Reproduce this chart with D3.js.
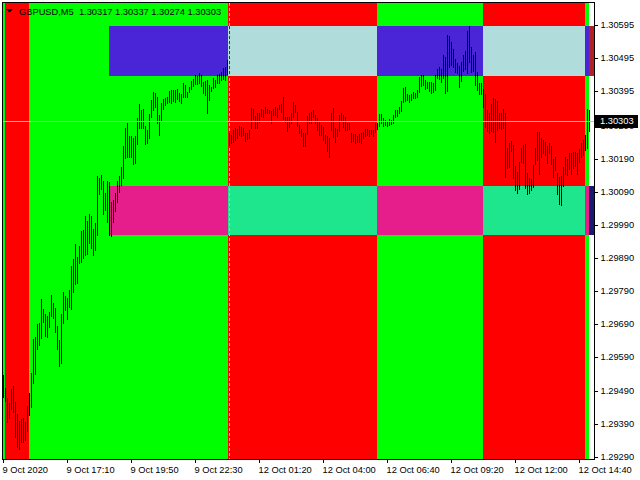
<!DOCTYPE html>
<html><head><meta charset="utf-8">
<script src="https://cdn.jsdelivr.net/npm/d3@7"></script>
<style>html,body{margin:0;padding:0;background:#fff;}svg{display:block;}</style>
</head><body>
<svg id="c" width="640" height="480"></svg>
<script>
// ---------- data ----------
const symbol = "GBPUSD,M5";
const lastOHLC = [1.30317, 1.30337, 1.30274, 1.30303];
const bid = 1.30303;

const highs = [
1.29537,1.29498,1.29467,1.29452,1.29495,1.29504,1.29455,1.29419,1.29398,1.29404,
1.29407,1.29395,1.29443,1.29482,1.29543,1.29646,1.29652,1.29691,1.29694,1.29766,
1.29736,1.29721,1.29715,1.29727,1.29779,1.29754,1.29739,1.29685,1.29643,1.29721,
1.29788,1.29776,1.29769,1.29794,1.29866,1.29887,1.29933,1.29893,1.29927,1.29972,
1.29975,1.30017,1.30002,1.30023,1.30017,1.29978,1.29996,1.30138,1.30132,1.30141,
1.30123,1.30087,1.30123,1.30120,1.30059,1.30066,1.30087,1.30123,1.30138,1.30165,
1.30229,1.30283,1.30298,1.30259,1.30259,1.30253,1.30259,1.30313,1.30356,1.30337,
1.30340,1.30289,1.30277,1.30325,1.30368,1.30392,1.30389,1.30377,1.30322,1.30359,
1.30371,1.30374,1.30377,1.30395,1.30398,1.30398,1.30398,1.30401,1.30389,1.30386,
1.30419,1.30413,1.30392,1.30407,1.30425,1.30431,1.30443,1.30440,1.30449,1.30443,
1.30422,1.30425,1.30428,1.30413,1.30407,1.30434,1.30428,1.30443,1.30446,1.30452,
1.30464,1.30467,1.30488,1.30268,1.30262,1.30277,1.30283,1.30280,1.30289,1.30286,
1.30283,1.30268,1.30268,1.30277,1.30343,1.30340,1.30319,1.30328,1.30328,1.30340,
1.30337,1.30346,1.30340,1.30337,1.30334,1.30340,1.30346,1.30343,1.30353,1.30356,
1.30377,1.30316,1.30316,1.30316,1.30328,1.30362,1.30353,1.30331,1.30292,1.30280,
1.30268,1.30268,1.30319,1.30328,1.30331,1.30337,1.30322,1.30313,1.30301,1.30292,
1.30286,1.30262,1.30259,1.30253,1.30328,1.30343,1.30283,1.30280,1.30322,1.30328,
1.30322,1.30316,1.30298,1.30298,1.30268,1.30265,1.30265,1.30259,1.30265,1.30268,
1.30271,1.30280,1.30280,1.30277,1.30277,1.30277,1.30298,1.30298,1.30325,1.30325,
1.30313,1.30307,1.30304,1.30310,1.30307,1.30322,1.30337,1.30337,1.30346,1.30365,
1.30404,1.30407,1.30386,1.30383,1.30386,1.30392,1.30389,1.30398,1.30437,1.30443,
1.30443,1.30428,1.30422,1.30422,1.30422,1.30419,1.30443,1.30461,1.30467,1.30461,
1.30504,1.30497,1.30564,1.30561,1.30543,1.30522,1.30491,1.30479,1.30470,1.30482,
1.30504,1.30516,1.30576,1.30591,1.30528,1.30504,1.30513,1.30452,1.30419,1.30419,
1.30401,1.30386,1.30337,1.30328,1.30356,1.30374,1.30371,1.30365,1.30328,1.30328,
1.30340,1.30328,1.30223,1.30238,1.30244,1.30232,1.30168,1.30150,1.30180,1.30223,
1.30232,1.30235,1.30147,1.30132,1.30129,1.30171,1.30223,1.30271,1.30271,1.30253,
1.30247,1.30241,1.30229,1.30238,1.30229,1.30189,1.30195,1.30147,1.30135,1.30138,
1.30165,1.30195,1.30189,1.30208,1.30208,1.30211,1.30211,1.30208,1.30220,1.30238,
1.30247,1.30262,1.30340,1.30337
];
const lows = [
1.29470,1.29458,1.29395,1.29407,1.29434,1.29425,1.29350,1.29319,1.29313,1.29334,
1.29334,1.29340,1.29368,1.29416,1.29440,1.29513,1.29540,1.29615,1.29627,1.29649,
1.29697,1.29655,1.29652,1.29682,1.29715,1.29709,1.29667,1.29615,1.29564,1.29573,
1.29694,1.29733,1.29706,1.29742,1.29736,1.29788,1.29812,1.29815,1.29875,1.29878,
1.29890,1.29899,1.29902,1.29936,1.29921,1.29899,1.29914,1.29960,1.30084,1.30099,
1.30023,1.30035,1.29999,1.29960,1.29957,1.29999,1.30032,1.30059,1.30090,1.30111,
1.30132,1.30192,1.30195,1.30195,1.30195,1.30174,1.30177,1.30235,1.30283,1.30283,
1.30283,1.30235,1.30238,1.30253,1.30316,1.30337,1.30346,1.30298,1.30262,1.30307,
1.30340,1.30353,1.30359,1.30362,1.30359,1.30365,1.30362,1.30371,1.30365,1.30359,
1.30377,1.30377,1.30377,1.30392,1.30401,1.30410,1.30416,1.30416,1.30419,1.30410,
1.30389,1.30383,1.30328,1.30368,1.30395,1.30404,1.30407,1.30419,1.30419,1.30428,
1.30431,1.30428,1.30446,1.30232,1.30238,1.30241,1.30247,1.30253,1.30262,1.30259,
1.30262,1.30244,1.30250,1.30253,1.30283,1.30310,1.30283,1.30283,1.30301,1.30319,
1.30316,1.30328,1.30328,1.30328,1.30298,1.30322,1.30322,1.30316,1.30340,1.30331,
1.30310,1.30301,1.30274,1.30286,1.30298,1.30316,1.30331,1.30289,1.30268,1.30259,
1.30229,1.30229,1.30265,1.30298,1.30298,1.30316,1.30298,1.30277,1.30262,1.30262,
1.30247,1.30238,1.30214,1.30195,1.30277,1.30256,1.30241,1.30259,1.30274,1.30307,
1.30286,1.30277,1.30277,1.30280,1.30241,1.30244,1.30238,1.30241,1.30241,1.30238,
1.30253,1.30259,1.30262,1.30259,1.30265,1.30259,1.30271,1.30280,1.30289,1.30298,
1.30289,1.30292,1.30289,1.30292,1.30295,1.30298,1.30316,1.30319,1.30328,1.30334,
1.30362,1.30365,1.30368,1.30362,1.30368,1.30374,1.30374,1.30377,1.30392,1.30410,
1.30413,1.30401,1.30404,1.30395,1.30389,1.30392,1.30398,1.30434,1.30431,1.30422,
1.30434,1.30389,1.30395,1.30467,1.30473,1.30467,1.30452,1.30449,1.30407,1.30425,
1.30455,1.30461,1.30449,1.30482,1.30452,1.30455,1.30413,1.30398,1.30386,1.30386,
1.30346,1.30286,1.30274,1.30268,1.30274,1.30271,1.30241,1.30277,1.30283,1.30280,
1.30283,1.30135,1.30162,1.30165,1.30214,1.30132,1.30096,1.30087,1.30099,1.30180,
1.30177,1.30102,1.30084,1.30087,1.30096,1.30105,1.30174,1.30186,1.30144,1.30195,
1.30208,1.30201,1.30177,1.30208,1.30174,1.30135,1.30156,1.30084,1.30053,1.30050,
1.30108,1.30144,1.30141,1.30159,1.30144,1.30162,1.30168,1.30144,1.30180,1.30195,
1.30201,1.30217,1.30223,1.30274
];

const timeTickBars = [0, 32, 64, 96, 128, 160, 192, 224, 256, 288];
const timeTickLabels = ["9 Oct 2020","9 Oct 17:10","9 Oct 19:50","9 Oct 22:30","12 Oct 01:20",
                        "12 Oct 04:00","12 Oct 06:40","12 Oct 09:20","12 Oct 12:00","12 Oct 14:40"];
const priceTicks = [1.30595,1.30495,1.30395,1.30290,1.30190,1.30090,1.29990,
                    1.29890,1.29790,1.29690,1.29590,1.29490,1.29390,1.29290];

// session background bands (bar-index edges)
const sessionEdges  = [0, 1, 13, 112.5, 187, 240, 291, 293, 296];
const sessionColors = ["#00ff00","#ff0000","#00ff00","#ff0000","#00ff00","#ff0000","#00ff00","#ffffff"];
// range boxes
const boxEdges    = [53, 112.5, 187, 240, 291, 293, 296];
const upperZone   = [1.30441, 1.30591];
const lowerZone   = [1.29960, 1.30109];
const upperColors = ["#4a25d8","#b0dcdc","#4a25d8","#b0dcdc","#4a25d8","#b22222"];
const lowerColors = ["#e61e8c","#1ee68c","#e61e8c","#1ee68c","#e61e8c","#191970"];
const separatorBar = 113;

// ---------- drawing ----------
const L = 3, R = 594, T = 3, B = 459;
const x = d3.scaleLinear().domain([0, 295.5]).range([L, R]);
const y = d3.scaleLinear().domain([1.29283, 1.30661]).range([B, T]);
const FONT = "'Liberation Sans', Arial, sans-serif";
const FS = "9.3px";

const svg = d3.select("#c");
svg.append("rect").attr("width",640).attr("height",480).attr("fill","#fff");
svg.append("defs").append("clipPath").attr("id","pc")
  .append("rect").attr("x",L).attr("y",T).attr("width",R-L).attr("height",B-T);
const g = svg.append("g").attr("clip-path","url(#pc)").attr("shape-rendering","crispEdges");

// bands
g.selectAll("rect.band").data(sessionColors).join("rect").attr("class","band")
  .attr("x",(d,i)=>x(sessionEdges[i])).attr("width",(d,i)=>x(sessionEdges[i+1])-x(sessionEdges[i]))
  .attr("y",T).attr("height",B-T).attr("fill",d=>d);

// boxes
function boxes(zone, colors){
  const y0 = Math.round(y(zone[1])), y1 = Math.round(y(zone[0]));
  g.append("g").selectAll("rect").data(colors).join("rect")
    .attr("x",(d,i)=>x(boxEdges[i])).attr("width",(d,i)=>x(boxEdges[i+1])-x(boxEdges[i]))
    .attr("y",y0).attr("height",y1-y0).attr("fill",d=>d);
}
boxes(upperZone, upperColors);
boxes(lowerZone, lowerColors);

// period separator
const sx = x(separatorBar) + 0.5;
g.append("line").attr("x1",sx).attr("x2",sx).attr("y1",T).attr("y2",B)
  .attr("stroke","#a8d0ec").attr("stroke-dasharray","3,2");
g.append("line").attr("x1",sx).attr("x2",sx).attr("y1",Math.round(y(upperZone[1]))).attr("y2",Math.round(y(upperZone[0])))
  .attr("stroke","#3a3a3a").attr("stroke-dasharray","3,2");

// bars
g.append("g").selectAll("line").data(highs).join("line")
  .attr("x1",(d,i)=>x(i)+0.5).attr("x2",(d,i)=>x(i)+0.5)
  .attr("y1",d=>Math.round(y(d))).attr("y2",(d,i)=>Math.round(y(lows[i]))+1)
  .attr("stroke","#000").attr("stroke-width",1);

// bid line
const by = Math.round(y(bid)) + 0.5;
g.append("line").attr("x1",L).attr("x2",R).attr("y1",by).attr("y2",by).attr("stroke","#c0c0c0");

// frame
svg.append("rect").attr("x",2.5).attr("y",2.5).attr("width",592).attr("height",457)
  .attr("fill","none").attr("stroke","#000").attr("shape-rendering","crispEdges");

// price axis
const yAxis = d3.axisRight(y).tickValues(priceTicks).tickFormat(d3.format(".5f")).tickSize(3).tickPadding(3);
const ya = svg.append("g").attr("transform",`translate(${R+0.5},0)`).call(yAxis);
ya.select(".domain").remove();
ya.selectAll(".tick").attr("transform",d=>`translate(0,${Math.round(y(d))+0.5})`);
ya.selectAll("line").attr("stroke","#000").attr("shape-rendering","crispEdges");
ya.selectAll("text").attr("font-family",FONT).attr("font-size",FS).attr("fill","#000").attr("x",6);

// time axis
const xAxis = d3.axisBottom(x).tickValues(timeTickBars).tickFormat((d,i)=>timeTickLabels[i]).tickSize(3).tickPadding(2);
const xa = svg.append("g").attr("transform",`translate(0,${B+0.5})`).call(xAxis);
xa.select(".domain").remove();
xa.selectAll(".tick").attr("transform",d=>`translate(${x(d)+0.5},0)`);
xa.selectAll("line").attr("stroke","#000").attr("shape-rendering","crispEdges");
xa.selectAll("text").attr("font-family",FONT).attr("font-size",FS).attr("fill","#000")
  .attr("text-anchor","start").attr("x",-1).attr("dy","0.9em");

// current price label
const cy = Math.round(y(bid));
svg.append("rect").attr("x",595).attr("y",cy-6).attr("width",43).attr("height",13).attr("fill","#000");
svg.append("text").attr("x",600).attr("y",cy).attr("dy","0.35em").attr("font-family",FONT).attr("font-size",FS)
  .attr("fill","#fff").text(d3.format(".5f")(bid));

// title
svg.append("path").attr("d","M6,9 L13,9 L9.5,12.5 Z").attr("fill","#000");
svg.append("text").attr("x",19).attr("y",14.5).attr("font-family",FONT).attr("font-size",FS).attr("fill","#000")
  .attr("xml:space","preserve")
  .text(symbol + "  " + lastOHLC.map(d3.format(".5f")).join(" "));
</script>
</body></html>
